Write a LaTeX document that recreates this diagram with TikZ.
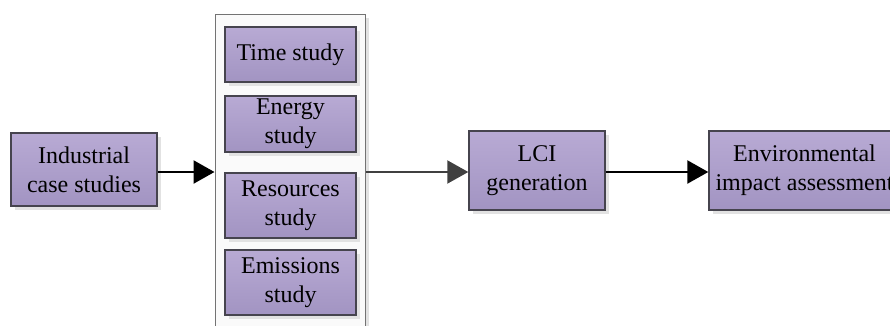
\documentclass[tikz,border=0pt]{standalone}
\usepackage{fontspec}
\setmainfont{Liberation Serif}
\usetikzlibrary{arrows.meta,shadows}
\definecolor{boxtop}{RGB}{184,170,212}
\definecolor{boxbot}{RGB}{162,148,194}
\definecolor{boxedge}{RGB}{70,68,78}
\definecolor{shade}{RGB}{226,226,226}
\definecolor{midarrow}{RGB}{64,64,64}
\tikzset{
  proc/.style={rectangle, draw=boxedge, line width=1.4pt, top color=boxtop, bottom color=boxbot,
    align=center, inner sep=0pt, font=\fontsize{24}{29}\selectfont,
    drop shadow={shadow xshift=4pt, shadow yshift=-4pt, fill=shade, opacity=1}},
  holder/.style={rectangle, draw=black!55, line width=1pt, fill=black!2, inner sep=0pt,
    drop shadow={shadow xshift=4pt, shadow yshift=-4pt, fill=shade, opacity=1}},
  arr/.style={line width=2.4pt, -{Triangle[length=21pt,width=23pt]}},
}
\begin{document}
\begin{tikzpicture}[x=1pt,y=1pt]
\useasboundingbox (0,0) rectangle (890,325);
\clip (0,0) rectangle (890,325);
\node[proc, minimum width=146pt, minimum height=73pt] (ind) at (84,155.5) {Industrial\\case studies};
\node[holder, minimum width=150pt, minimum height=330pt] (cont) at (290,146) {};
\node[proc, minimum width=131pt, minimum height=55pt] (time) at (290.5,270.5) {Time study};
\node[proc, minimum width=131pt, minimum height=56pt] (energy) at (290.5,201) {Energy\\study};
\node[proc, minimum width=131pt, minimum height=65pt] (res) at (290.5,119.5) {Resources\\study};
\node[proc, minimum width=131pt, minimum height=65pt] (emi) at (290.5,42.5) {Emissions\\study};
\node[proc, minimum width=136pt, minimum height=79pt] (lci) at (537,154.5) {LCI\\generation};
\node[proc, minimum width=191pt, minimum height=79pt] (env) at (804.5,154.5) {Environmental\\impact assessment};
\draw[arr] ([yshift=-2.5pt]ind.east) -- ([yshift=-2.5pt]ind.east -| cont.west);
\draw[arr, line width=2pt, draw=midarrow, fill=midarrow] ([yshift=-1.5pt]lci.west -| cont.east) -- ([yshift=-1.5pt]lci.west);
\draw[arr] ([yshift=-1.5pt]lci.east) -- ([yshift=-1.5pt]env.west);
\end{tikzpicture}
\end{document}
